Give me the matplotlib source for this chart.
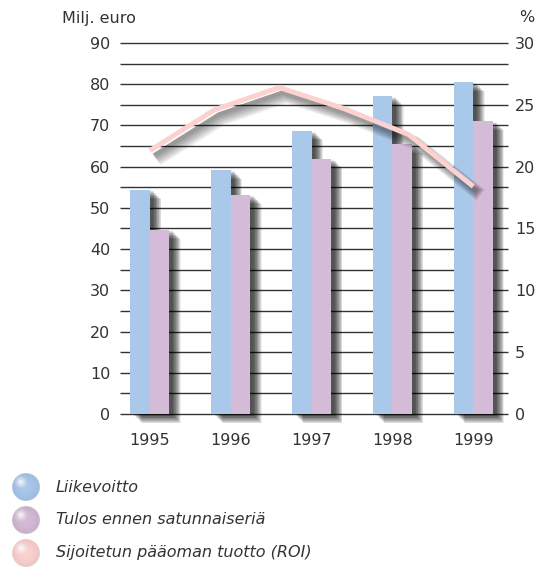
import numpy as np
import matplotlib
matplotlib.use("Agg")
import matplotlib.pyplot as plt
import matplotlib.patheffects as pe
import matplotlib.colors as mcolors

# data
years = ["1995", "1996", "1997", "1998", "1999"]
liikevoitto = [54.4, 59.2, 68.7, 77.1, 80.5]
tulos = [44.7, 53.2, 61.9, 65.5, 71.1]
roi = [21.3, 24.6, 26.4, 24.7, 22.6, 18.4]

left_ticks = list(range(0, 91, 10))
right_ticks = list(range(0, 31, 5))
grid_levels = list(range(0, 91, 5))

legend_labels = ["Liikevoitto", "Tulos ennen satunnaiseriä",
                 "Sijoitetun pääoman tuotto (ROI)"]

blue = "#a9c8ea"
purple = "#d4bbd7"
pink = "#fcd2d1"
txt = "#333333"

plt.rcParams['font.family'] = ['DejaVu Sans']


def bar_shadow():
    # stacked soft offsets to fake a blurred drop shadow
    fx = []
    for k in range(14):
        o = 0.8 + k * 0.45
        fx.append(pe.SimplePatchShadow(offset=(o + 1.5, -o), shadow_rgbFace='k', alpha=0.075))
    fx.append(pe.Normal())
    return fx


def line_shadow():
    fx = []
    for k in range(8):
        fx.append(pe.SimpleLineShadow(offset=(2.5 + k * 0.4, -3.5 - k * 0.4), shadow_color='k',
                                      alpha=0.06, linewidth=3.0 + k * 1.0))
    fx.append(pe.Normal())
    return fx


fig = plt.figure(figsize=(5.42, 5.67), dpi=100)
ax = fig.add_axes([120 / 542, 1 - 414 / 567, 388 / 542, 371 / 567])
ax.set_xlim(-0.37, 4.43)
ax.set_ylim(0, 90)

ax.hlines(grid_levels, -0.37, 4.43, color="#333333", lw=1.0, zorder=0, clip_on=False)

x = np.arange(len(years))
w = 0.241
b1 = ax.bar(x - w / 2, liikevoitto, w, color=blue, zorder=3, clip_on=False)
b2 = ax.bar(x + w / 2, tulos, w, color=purple, zorder=3, clip_on=False)
for p in list(b1) + list(b2):
    p.set_path_effects(bar_shadow())

fs = 11.5
ax.set_yticks(left_ticks)
ax.set_xticks(x)
ax.set_xticklabels(years)
ax.tick_params(axis='y', length=0, pad=7, labelsize=fs, labelcolor=txt)
ax.tick_params(axis='x', length=0, pad=14, labelsize=fs, labelcolor=txt)
for s in ax.spines.values():
    s.set_visible(False)

ax2 = ax.twinx()
ax2.set_ylim(0, 30)
ax2.set_yticks(right_ticks)
ax2.tick_params(axis='y', length=0, pad=5, labelsize=fs, labelcolor=txt)
for s in ax2.spines.values():
    s.set_visible(False)
rx = np.linspace(x[0], x[-1], len(roi))
ax2.plot(rx, roi, color=pink, lw=3.6, solid_joinstyle='miter', solid_capstyle='butt',
         zorder=5, path_effects=line_shadow())

fig.text(62 / 542, 1 - 19 / 567, "Milj. euro", fontsize=fs, color=txt, va='center', ha='left')
fig.text(527 / 542, 1 - 17 / 567, "%", fontsize=fs, color=txt, va='center', ha='center')

# legend with shaded spheres
lax = fig.add_axes([0, 0, 1, 1], zorder=-1)
lax.set_xlim(0, 542)
lax.set_ylim(567, 0)
lax.axis('off')


def sphere(color, n=80):
    rgb = np.array(mcolors.to_rgb(color))
    yy, xx = np.mgrid[-1:1:n * 1j, -1:1:n * 1j]
    r = np.hypot(xx, yy)
    d = np.hypot(xx + 0.38, yy + 0.38)
    mix = np.clip(1 - d / 0.55, 0, 1) ** 1.3
    col = rgb[None, None, :] * (1 - mix[..., None]) + mix[..., None]
    col = col * (1 - 0.07 * r[..., None] ** 2)
    a = np.clip((1 - r) * n / 2 + 0.5, 0, 1)
    return np.dstack([np.clip(col, 0, 1), a])


R = 14
for i, (lab, c) in enumerate(zip(legend_labels, [blue, purple, pink])):
    cy = 487 + i * 33
    cx = 26
    lax.imshow(sphere(c), extent=[cx - R, cx + R, cy + R, cy - R], origin='upper',
               interpolation='bilinear')
    lax.text(56, cy, lab, fontsize=fs, style='italic', color=txt, va='center', ha='left')
lax.set_xlim(0, 542)
lax.set_ylim(567, 0)

fig.savefig("out.png", dpi=100)
